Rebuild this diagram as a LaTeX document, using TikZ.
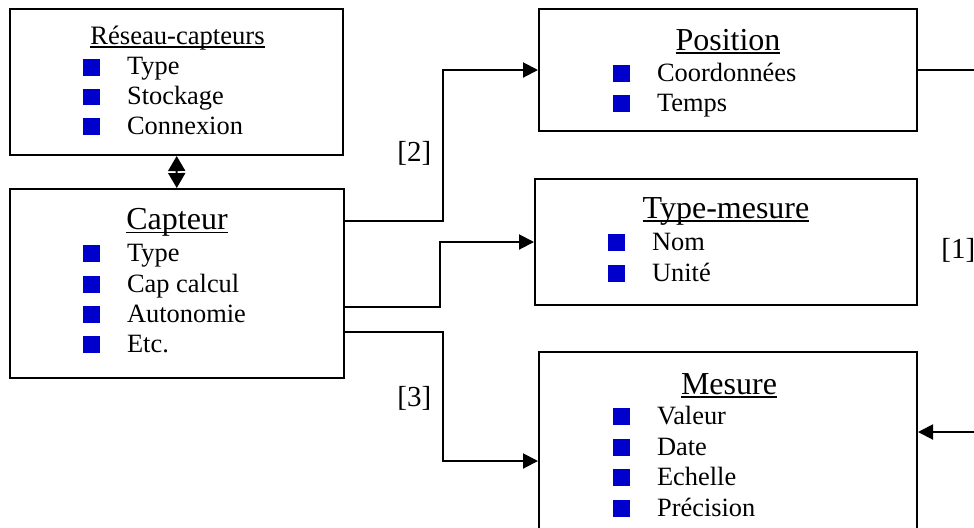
\documentclass[tikz,border=0pt]{standalone}
\usepackage{fontspec}
\setmainfont{Liberation Serif}
\usepackage{tikz}
\usetikzlibrary{arrows.meta}

\definecolor{bulletColor}{RGB}{0,0,204}
% underlined heading, rule set just under the baseline
\newcommand{\titul}[1]{\setbox0\hbox{#1}\rlap{\rule[-0.13em]{\wd0}{0.055em}}\box0}
% blue square in front of each attribute
\newcommand{\bul}{{\color{bulletColor}\rule[-0.5pt]{8.35pt}{8.35pt}}\hspace{13.5pt}}

\begin{document}
\begin{tikzpicture}[x=0.5pt,y=-0.5pt,
  classbox/.style={draw,line width=1pt,inner sep=0pt},
  title/.style={anchor=base,inner sep=0pt,font=\fontsize{16}{19}\selectfont},
  item/.style={anchor=base west,inner sep=0pt,font=\fontsize{13.2}{15}\selectfont},
  lbl/.style={anchor=west,inner sep=0pt,font=\fontsize{14.5}{17}\selectfont},
  conn/.style={line width=1pt,>={Triangle[length=7.5pt,width=7.5pt]}}]
\useasboundingbox (0,0) rectangle (974,527);
\clip (0,0) rectangle (974,527);

% class boxes
\node[classbox,minimum width=166.5pt,minimum height=73pt] (reseau) at (176.5,82) {};
\node[classbox,minimum width=167pt,minimum height=94.5pt] (capteur) at (177,283.5) {};
\node[classbox,minimum width=189pt,minimum height=61pt] (position) at (728,70) {};
\node[classbox,minimum width=191pt,minimum height=63pt] (typemesure) at (726,242) {};
\node[classbox,minimum width=189pt,minimum height=109pt] (mesure) at (728,461) {};

% headings
\node[title,font=\fontsize{13.3}{15}\selectfont] (reseau-t) at (177.5,44.3) {\titul{Réseau-capteurs}};
\node[title] (capteur-t) at (177,229.3) {\titul{Capteur}};
\node[title] (position-t) at (728,50) {\titul{Position}};
\node[title] (typemesure-t) at (726,218) {\titul{Type-mesure}};
\node[title] (mesure-t) at (729,394) {\titul{Mesure}};

% attributes
\foreach \txt/\yy [count=\i] in {Type/74.5,Stockage/104.3,Connexion/134}
  \node[item] (reseau-\i) at (83,\yy) {\bul\txt};
\foreach \txt/\yy [count=\i] in {Type/261,Cap calcul/292,Autonomie/322,Etc./352}
  \node[item] (capteur-\i) at (83,\yy) {\bul\txt};
\foreach \txt/\yy [count=\i] in {Coordonnées/81,Temps/111}
  \node[item] (position-\i) at (613,\yy) {\bul\txt};
\foreach \txt/\yy [count=\i] in {Nom/250,Unité/281}
  \node[item] (typemesure-\i) at (608,\yy) {\bul\txt};
\foreach \txt/\yy [count=\i] in {Valeur/424,Date/455,Echelle/485,Précision/516}
  \node[item] (mesure-\i) at (613,\yy) {\bul\txt};

% links
\draw[conn,{Triangle[length=7.5pt,width=8.5pt]}-{Triangle[length=7.5pt,width=8.5pt]}] (reseau) -- (capteur);
\draw[conn,->] (capteur.east |- 0,221) -- +(98,0) |- (position.west);
\draw[conn,->] (capteur.east |- 0,307) -- +(95,0) |- (typemesure.west);
\draw[conn,->] (capteur.east |- 0,332) -- +(98,0) |- (mesure.west);
\coordinate (outtop) at (1000,70);
\coordinate (outbot) at (1000,432);
\draw[line width=0.65pt] (position.east) -- (outtop);
\draw[conn,->] (outbot) -- (mesure.east |- outbot);

\node[lbl] (lbl2) at (397,153.5) {[2]};
\node[lbl] (lbl3) at (397,398) {[3]};
\node[lbl] (lbl1) at (941,250) {[1]};
\end{tikzpicture}
\end{document}
